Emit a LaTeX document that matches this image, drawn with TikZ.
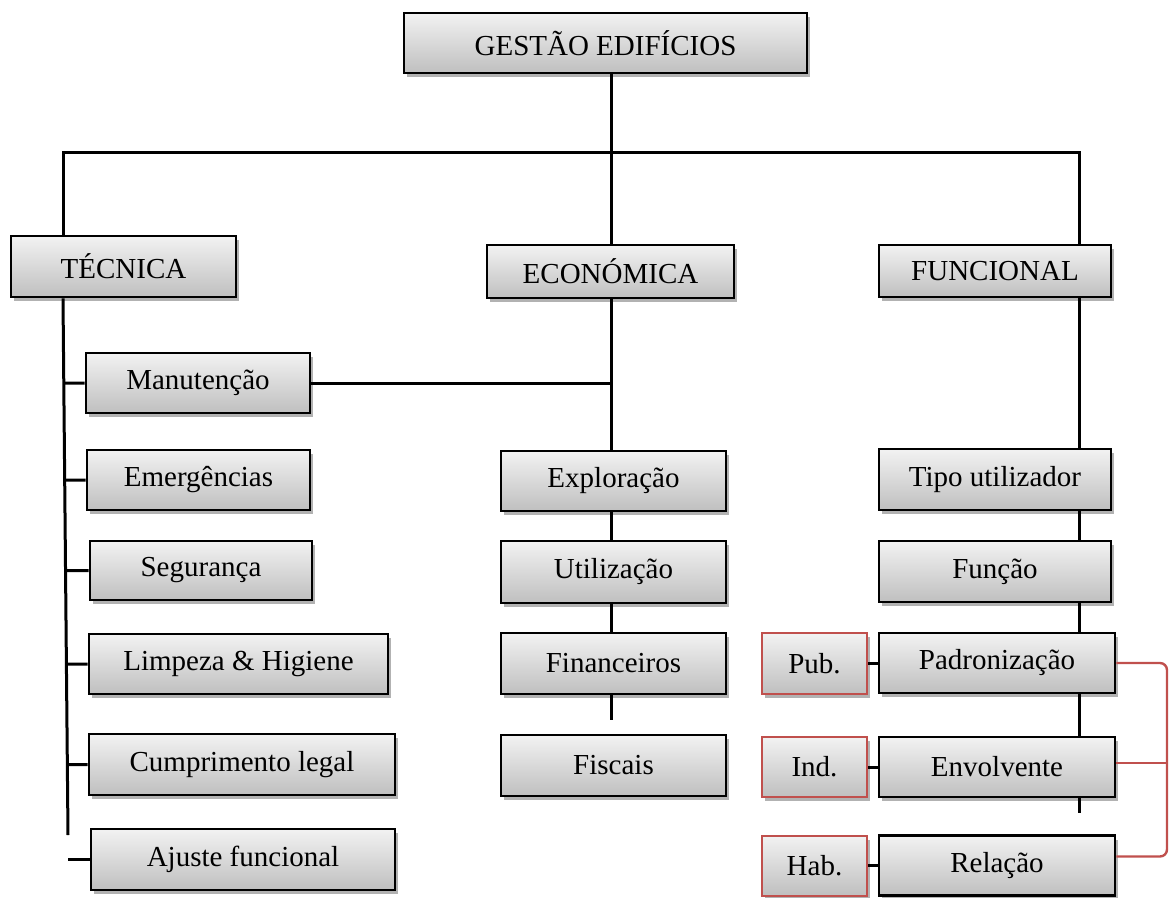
\documentclass[tikz,border=0pt]{standalone}
\usepackage{fontspec}
\setmainfont{Liberation Serif}
\usetikzlibrary{shadows,calc}
\definecolor{tagred}{RGB}{192,80,77}
\begin{document}
\begin{tikzpicture}[x=1pt,y=-1pt,
  box/.style={draw=black, line width=2.6pt, top color=gray!10, bottom color=gray!50,
    drop shadow={shadow xshift=2.5pt, shadow yshift=-4pt, opacity=0.3, fill=black},
    font=\fontsize{29}{34}\selectfont, inner sep=0pt},
  tagbox/.style={box, draw=tagred, line width=2pt},
  link/.style={line width=3pt},
  bracket/.style={draw=tagred, line width=2.4pt, rounded corners=7pt}]
\useasboundingbox (0,0) rectangle (1170,897);

% root and the three areas
\node[box, minimum width=403, minimum height=60] (top) at (605.5,43) {GESTÃO EDIFÍCIOS};
\node[box, minimum width=225, minimum height=61] (tec) at (123.5,266.5) {TÉCNICA};
\node[box, minimum width=247, minimum height=53] (eco) at (610.5,271.5) {ECONÓMICA};
\node[box, minimum width=232, minimum height=52] (fun) at (995,271) {FUNCIONAL};

% technical branch
\node[box, minimum width=224, minimum height=60] (man) at (198,383) {Manutenção};
\node[box, minimum width=223, minimum height=60] (eme) at (198.5,480) {Emergências};
\node[box, minimum width=222, minimum height=59] (seg) at (201,570.5) {Segurança};
\node[box, minimum width=299, minimum height=60] (lim) at (238.5,664) {Limpeza \& Higiene};
\node[box, minimum width=306, minimum height=61] (cum) at (242,764.5) {Cumprimento legal};
\node[box, minimum width=304, minimum height=61] (aju) at (243,859.5) {Ajuste funcional};

% economic branch
\node[box, minimum width=225, minimum height=60] (exp) at (613.5,481) {Exploração};
\node[box, minimum width=225, minimum height=62] (uti) at (613.5,572) {Utilização};
\node[box, minimum width=225, minimum height=61] (fin) at (613.5,663.5) {Financeiros};
\node[box, minimum width=225, minimum height=61] (fis) at (613.5,765.5) {Fiscais};

% functional branch
\node[box, minimum width=232, minimum height=61] (tip) at (995,479.5) {Tipo utilizador};
\node[box, minimum width=232, minimum height=61] (fcn) at (995,571.5) {Função};
\node[box, minimum width=236, minimum height=60] (pad) at (997,663) {Padronização};
\node[box, minimum width=236, minimum height=60] (env) at (997,767) {Envolvente};
\node[box, minimum width=236, minimum height=60] (rel) at (997,865.5) {Relação};
\node[tagbox, minimum width=105, minimum height=61] (pub) at (814.5,663.5) {Pub.};
\node[tagbox, minimum width=105, minimum height=60] (ind) at (814.5,767) {Ind.};
\node[tagbox, minimum width=105, minimum height=60] (hab) at (814.5,865.5) {Hab.};

% guide coordinates for the vertical lines
\coordinate (hub) at (611,152);
\coordinate (tecx) at (63,152);
\coordinate (funx) at (1079,152);
\coordinate (tend) at (68,835);
\coordinate (ajx) at (68,862);
\coordinate (fend) at (611,720);
\coordinate (send) at (1079,813);
\coordinate (bx) at (1167,0);

% top-level bar
\draw[link] (top.south -| hub) -- (eco.north -| hub);
\draw[link] (tec.north -| tecx) -- (tecx) -- (funx) -- (fun.north -| funx);

% technical trunk and stubs
\coordinate (tstart) at (tec.south -| tecx);
\draw[link] (tstart) -- (tend);
\foreach \b in {man,eme,seg,lim,cum}
  \draw[link] ($(tstart)!(\b.west)!(tend)$) -- (\b.west);
\draw[link] (aju.west -| ajx) -- (aju.west);

% economic spine
\draw[link] (man.east) -- (man.east -| hub);
\draw[link] (eco.south -| hub) -- (exp.north -| hub);
\draw[link] (exp.south -| hub) -- (uti.north -| hub);
\draw[link] (uti.south -| hub) -- (fin.north -| hub);
\draw[link] (fin.south -| hub) -- (fend);

% functional spine
\draw[link] (fun.south -| funx) -- (tip.north -| funx);
\draw[link] (tip.south -| funx) -- (fcn.north -| funx);
\draw[link] (fcn.south -| funx) -- (pad.north -| funx);
\draw[link] (pad.south -| funx) -- (env.north -| funx);
\draw[link] (env.south -| funx) -- (send);

% tags
\draw[link] (pub.east) -- (pub.east -| pad.west);
\draw[link] (ind.east) -- (ind.east -| env.west);
\draw[link] (hab.east) -- (hab.east -| rel.west);

% red bracket
\draw[bracket] (pad.east) -- (pad.east -| bx) -- ([yshift=9pt]rel.east -| bx) -- ([yshift=9pt]rel.east);
\draw[bracket] ([yshift=4pt]env.east) -- ([yshift=4pt]env.east -| bx);
\end{tikzpicture}
\end{document}
